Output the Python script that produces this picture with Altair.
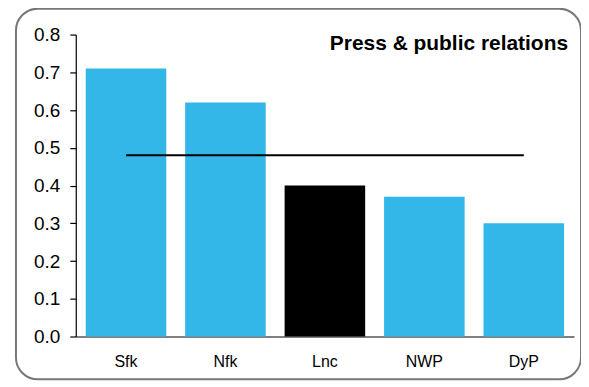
import altair as alt
import pandas as pd

categories = ["Sfk", "Nfk", "Lnc", "NWP", "DyP"]
values = [0.71, 0.62, 0.40, 0.37, 0.30]
highlight = ["no", "no", "yes", "no", "no"]
average = 0.48
title_text = "Press & public relations"
y_ticks = [0, 0.1, 0.2, 0.3, 0.4, 0.5, 0.6, 0.7, 0.8]

df = pd.DataFrame({"cat": categories, "val": values, "hl": highlight})
avg_df = pd.DataFrame({"cat": categories, "avg": [average] * len(categories)})

W, H = 500, 303

xscale = alt.Scale(domain=categories, paddingInner=0.19, paddingOuter=0.1)
yscale = alt.Scale(domain=[0, 0.8], nice=False)

border = alt.Chart(pd.DataFrame({"a": [0]})).mark_rect(
    fillOpacity=0, stroke="#777777", strokeWidth=2, cornerRadius=22, clip=False
).encode(
    x=alt.value(-60), x2=alt.value(507), y=alt.value(-26), y2=alt.value(346)
)

bars = alt.Chart(df).mark_bar().encode(
    x=alt.X("cat:N", scale=xscale, sort=categories,
            axis=alt.Axis(title=None, labelAngle=0, ticks=False, domainColor="black",
                          labelFont="Liberation Sans", labelFontSize=16, labelColor="black",
                          labelPadding=17, domainWidth=1.2, labelOverlap=False)),
    y=alt.Y("val:Q", scale=yscale,
            axis=alt.Axis(title=None, values=y_ticks, tickCount=9,
                          format=".1f", grid=False, domainColor="black", ticks=True,
                          tickColor="black", tickWidth=1.2,
                          tickSize=6, labelFont="Liberation Sans", labelFontSize=19,
                          labelColor="black", labelPadding=10, domainWidth=1.2,
                          labelOverlap=False, labelFlush=False)),
    color=alt.Color("hl:N", scale=alt.Scale(domain=["no", "yes"], range=["#33B7E8", "#000000"]),
                    legend=None),
)

line = alt.Chart(avg_df).mark_line(color="black", strokeWidth=2).encode(
    x=alt.X("cat:N", scale=xscale, sort=categories),
    y=alt.Y("avg:Q", scale=yscale),
)

title = alt.Chart(pd.DataFrame({"t": [title_text]})).mark_text(
    align="right", baseline="alphabetic", fontWeight="bold", fontSize=21,
    font="Liberation Sans", color="black"
).encode(x=alt.value(494), y=alt.value(15), text="t:N")

chart = alt.layer(border, bars, line, title).properties(
    width=W, height=H,
    autosize=alt.AutoSizeParams(type="none"),
    padding={"left": 68, "top": 26, "right": 7, "bottom": 47},
).configure_view(stroke=None)

chart.save("out.html", embed_options={"renderer": "svg", "actions": False})
